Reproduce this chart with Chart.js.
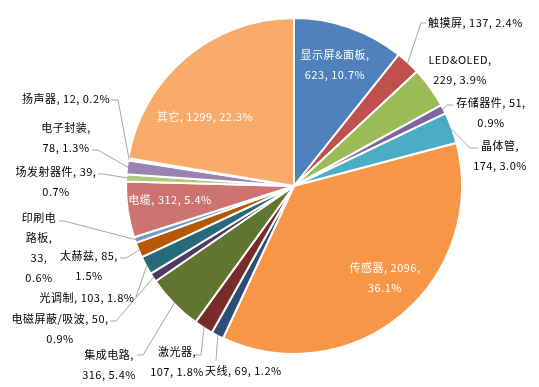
<!DOCTYPE html>
<html>
<head>
<meta charset="utf-8">
<script src="https://cdn.jsdelivr.net/npm/chart.js@4.4.0/dist/chart.umd.min.js"></script>
<style>
  body { margin: 0; background: #fff; }
  canvas { display: block; }
</style>
</head>
<body>
<canvas id="pastel" width="539" height="387"></canvas>
<script>
// datos (sentido horario desde arriba)
var categorias = ['显示屏&面板', '触摸屏', 'LED&OLED', '存储器件', '晶体管', '传感器', '天线', '激光器', '集成电路',
	'电磁屏蔽/吸波', '光调制', '太赫兹', '印刷电路板', '电缆', '场发射器件', '电子封装', '扬声器', '其它'];
var cantidades = [623, 137, 229, 51, 174, 2096, 69, 107, 316, 50, 103, 85, 33, 312, 39, 78, 12, 1299];
var porcentajes = ['10.7%', '2.4%', '3.9%', '0.9%', '3.0%', '36.1%', '1.2%', '1.8%', '5.4%',
	'0.9%', '1.8%', '1.5%', '0.6%', '5.4%', '0.7%', '1.3%', '0.2%', '22.3%'];

var colores = ['#4F81BD', '#C0504D', '#9BBB59', '#8064A2', '#4BACC6', '#F79646',
	'#2C4D75', '#772C2A', '#5F7530', '#4D3B62', '#276A7C', '#B65708',
	'#729ACA', '#CD7371', '#AFC97A', '#9983B5', '#6FBDD1', '#F9AB6B'];

// colocacion de las etiquetas: x (centro o izquierda), y primera linea, tipo de corte, guia
// corte: 'a' = una linea, 'b' = nombre / valor, 'c' = nombre, valor / %, 'd' = caso especial
var etiquetas = [
	{ x: 335, y: 55, alin: 'center', corte: 'b', blanco: true },
	{ x: 428, y: 23, alin: 'left', corte: 'a', guia: [[426, 23], [421, 23]] },
	{ x: 460, y: 60, alin: 'center', corte: 'b' },
	{ x: 491, y: 103, alin: 'center', corte: 'c', guia: [[453, 105], [447, 105]] },
	{ x: 500, y: 146, alin: 'center', corte: 'b', guia: [[478, 148], [470, 148]] },
	{ x: 385, y: 268, alin: 'center', corte: 'c', blanco: true },
	{ x: 205, y: 371, alin: 'left', corte: 'a', guia: [[216, 361]] },
	{ x: 177, y: 352, alin: 'center', corte: 'b', guia: [[195, 355], [201, 355]] },
	{ x: 109, y: 355, alin: 'center', corte: 'b', guia: [[137, 355], [143, 355]] },
	{ x: 60, y: 319, alin: 'center', corte: 'c', guia: [[110, 321], [116, 321]] },
	{ x: 87, y: 298, alin: 'center', corte: 'a', guia: [[136, 297]] },
	{ x: 89, y: 256, alin: 'center', corte: 'c', guia: [[120, 258], [126, 258]] },
	{ x: 39, y: 218, alin: 'center', corte: 'd', guia: [[59, 221], [64, 221]] },
	{ x: 170, y: 200, alin: 'center', corte: 'a', blanco: true },
	{ x: 56, y: 172, alin: 'center', corte: 'c', guia: [[98, 174], [103, 174]] },
	{ x: 66, y: 128, alin: 'center', corte: 'b', guia: [[92, 150], [98, 150]] },
	{ x: 22, y: 99, alin: 'left', corte: 'a', guia: [[112, 100], [118, 100]] },
	{ x: 205, y: 117, alin: 'center', corte: 'a', blanco: true }
];

function lineasEtiqueta(i) {
	var nombre = categorias[i], n = cantidades[i], p = porcentajes[i];
	switch (etiquetas[i].corte) {
		case 'b': return [nombre + ',', n + ', ' + p];
		case 'c': return [nombre + ', ' + n + ',', p];
		case 'd': return [nombre.substring(0, 3), nombre.substring(3) + ',', n + ',', p];
		default: return [nombre + ', ' + n + ', ' + p];
	}
}

var pluginEtiquetas = {
	id: 'etiquetas',
	afterDatasetsDraw: function(chart) {
		var ctx = chart.ctx;
		var arcos = chart.getDatasetMeta(0).data;
		ctx.save();
		// guias
		ctx.strokeStyle = '#a6a6a6';
		ctx.lineWidth = 1;
		for (var i = 0; i < arcos.length; i++) {
			var et = etiquetas[i];
			if (!et.guia) continue;
			var a = arcos[i].getProps(['x', 'y', 'startAngle', 'endAngle', 'outerRadius'], true);
			var medio = (a.startAngle + a.endAngle) / 2;
			var px = a.x + Math.cos(medio) * (a.outerRadius - 1);
			var py = a.y + Math.sin(medio) * (a.outerRadius - 1);
			ctx.beginPath();
			ctx.moveTo(et.guia[0][0], et.guia[0][1]);
			for (var k = 1; k < et.guia.length; k++) ctx.lineTo(et.guia[k][0], et.guia[k][1]);
			ctx.lineTo(px, py);
			ctx.stroke();
		}
		// textos
		ctx.font = '11px "Noto Sans CJK SC", "Noto Sans", sans-serif';
		ctx.letterSpacing = '0.5px';
		ctx.textBaseline = 'middle';
		for (var j = 0; j < etiquetas.length; j++) {
			var e = etiquetas[j];
			var lineas = lineasEtiqueta(j);
			ctx.fillStyle = e.blanco ? '#ffffff' : '#000000';
			ctx.textAlign = e.alin;
			for (var l = 0; l < lineas.length; l++) {
				ctx.fillText(lineas[l], e.x, e.y + l * 20);
			}
		}
		ctx.restore();
	}
};

window.onload = function() {
	new Chart(document.getElementById('pastel'), {
		type: 'pie',
		data: {
			labels: categorias,
			datasets: [{
				data: cantidades,
				backgroundColor: colores,
				borderColor: '#ffffff',
				borderWidth: 2
			}]
		},
		options: {
			responsive: false,
			animation: false,
			layout: { padding: { left: 125, right: 76, top: 17, bottom: 32 } },
			plugins: {
				legend: { display: false },
				tooltip: { enabled: false }
			}
		},
		plugins: [pluginEtiquetas]
	});
};
</script>
</body>
</html>
